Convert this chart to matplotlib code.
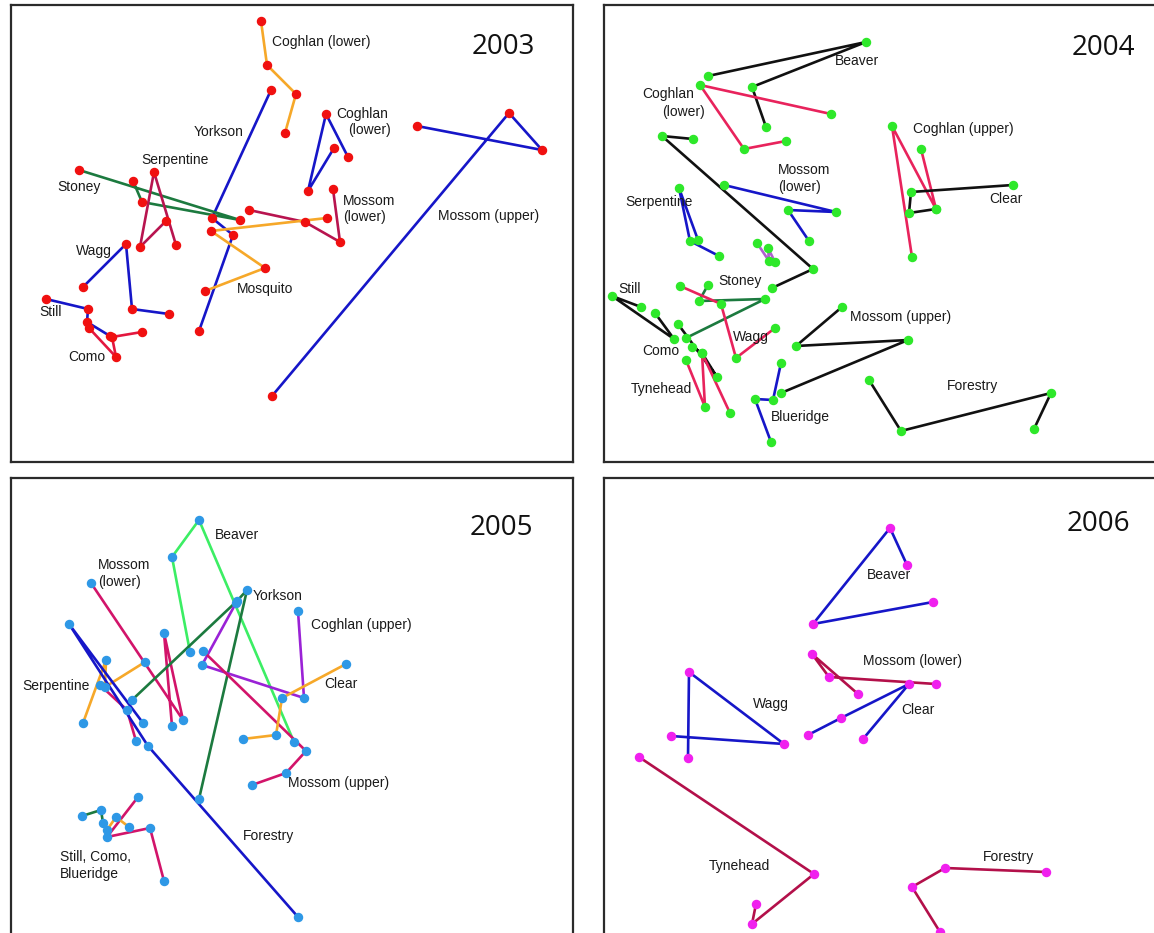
import matplotlib
matplotlib.use("Agg")
import matplotlib.pyplot as plt

# ---------------------------------------------------------------------------
# Site trajectories per year (ordination scores, page-aligned coordinates)
# each entry: site -> (x list, y list, line colour key)
# ---------------------------------------------------------------------------
years = ["2003", "2004", "2005", "2006"]

tracks_2003 = {
    "Coghlan (lower) a": ([261, 267, 296, 285], [21, 65, 94, 133], "orange"),
    "Yorkson": ([271, 212, 233, 199], [90, 218, 235, 331], "blue"),
    "Stoney": ([79, 240, 142, 133], [170, 220, 202, 181], "dgreen"),
    "Serpentine": ([176, 154, 140, 166], [245, 172, 247, 221], "crimson"),
    "Mossom (lower)": ([249, 305, 340, 333], [210, 222, 242, 189], "crimson"),
    "Mosquito": ([327, 211, 265, 205], [218, 231, 268, 291], "orange"),
    "Coghlan (lower) b": ([348, 326, 308, 334], [157, 114, 191, 148], "blue"),
    "Mossom (upper)": ([417, 542, 509, 272], [126, 150, 113, 396], "blue"),
    "Wagg": ([83, 126, 132, 169], [287, 244, 309, 314], "blue"),
    "Still": ([46, 88, 87, 110], [299, 309, 322, 336], "blue"),
    "Como": ([89, 116, 112, 142], [328, 357, 337, 332], "red"),
}
labels_2003 = [
    ("Coghlan (lower)", 272, 42), ("Yorkson", 194, 132), ("Serpentine", 141, 160),
    ("Stoney", 57, 187), ("Coghlan", 336, 114), ("(lower)", 348, 130),
    ("Mossom", 343, 201), ("(lower)", 343, 217), ("Mossom (upper)", 438, 216),
    ("Wagg", 76, 251), ("Mosquito", 237, 289), ("Still", 39, 312), ("Como", 68, 357),
]

tracks_2004 = {
    "Beaver": ([708, 866, 752, 766], [76, 42, 87, 127], "black"),
    "Coghlan (lower)": ([831, 700, 744, 786], [114, 85, 149, 141], "pink"),
    "Unlabelled": ([693, 662, 813, 772], [139, 136, 269, 288], "black"),
    "Mossom (lower)": ([724, 836, 788, 809], [185, 212, 210, 241], "blue"),
    "Serpentine": ([698, 679, 690, 719], [240, 188, 241, 256], "blue"),
    "Mosquito": ([757, 769, 768, 775], [243, 261, 248, 262], "purple"),
    "Stoney": ([708, 699, 765, 686], [285, 301, 299, 338], "dgreen"),
    "Wagg": ([680, 721, 736, 775], [286, 304, 358, 328], "pink"),
    "Still": ([641, 612, 674, 655], [307, 296, 339, 313], "black"),
    "Como": ([678, 717, 702, 692], [324, 377, 353, 347], "black"),
    "Tynehead": ([686, 705, 702, 730], [360, 407, 353, 413], "pink"),
    "Blueridge": ([781, 773, 755, 771], [363, 400, 399, 442], "blue"),
    "Mossom (upper)": ([842, 796, 908, 781], [307, 346, 340, 393], "black"),
    "Forestry": ([869, 901, 1051, 1034], [380, 431, 393, 429], "black"),
    "Coghlan (upper)": ([912, 892, 936, 921], [257, 126, 209, 149], "pink"),
    "Clear": ([1013, 911, 909, 936], [185, 192, 213, 209], "black"),
}
labels_2004 = [
    ("Beaver", 835, 61), ("Coghlan", 642, 94), ("(lower)", 662, 112),
    ("Mossom", 778, 170), ("(lower)", 778, 187), ("Serpentine", 625, 202),
    ("Coghlan (upper)", 913, 129), ("Clear", 989, 199), ("Stoney", 718, 281),
    ("Still", 618, 289), ("Mossom (upper)", 850, 317), ("Wagg", 733, 337),
    ("Como", 642, 351), ("Tynehead", 631, 389), ("Forestry", 947, 386),
    ("Blueridge", 771, 417),
]

tracks_2005 = {
    "Beaver": ([190, 172, 199, 294], [652, 557, 520, 742], "lgreen"),
    "Mossom (lower)": ([91, 183, 164, 172], [583, 720, 633, 726], "magred"),
    "Yorkson": ([132, 237, 247, 199], [700, 601, 590, 799], "dgreen"),
    "Coghlan (upper)": ([298, 304, 202, 236], [611, 698, 665, 603], "violet"),
    "Mossom (upper)": ([203, 306, 286, 252], [651, 751, 773, 785], "magred"),
    "Clear": ([346, 282, 276, 243], [664, 698, 735, 739], "orange"),
    "Serpentine": ([145, 105, 106, 83], [662, 687, 660, 723], "orange"),
    "Serpentine b": ([100, 127, 136], [685, 710, 741], "magred"),
    "Forestry": ([143, 69, 148, 298], [723, 624, 746, 917], "blue"),
    "Still": ([82, 101, 103], [816, 810, 823], "dgreen"),
    "Como": ([138, 107, 150, 164], [797, 837, 828, 881], "magred"),
    "Blueridge": ([107, 116, 129], [830, 817, 827], "orange"),
}
labels_2005 = [
    ("Beaver", 215, 535), ("Mossom", 98, 565), ("(lower)", 98, 582),
    ("Yorkson", 253, 596), ("Coghlan (upper)", 311, 625), ("Clear", 324, 684),
    ("Serpentine", 22, 686), ("Mossom (upper)", 288, 783), ("Forestry", 243, 836),
    ("Still, Como,", 60, 857), ("Blueridge", 60, 874),
]

tracks_2006 = {
    "Beaver": ([907, 890, 813, 933], [565, 528, 624, 602], "blue"),
    "Mossom (lower)": ([858, 812, 829, 936], [694, 654, 677, 684], "wine"),
    "Clear": ([808, 841, 909, 863], [735, 718, 684, 739], "blue"),
    "Wagg": ([688, 689, 784, 671], [758, 672, 744, 736], "blue"),
    "Tynehead": ([639, 814, 752, 756], [757, 874, 924, 904], "wine"),
    "Forestry": ([1046, 945, 912, 940], [872, 868, 887, 932], "wine"),
}
labels_2006 = [
    ("Beaver", 867, 575), ("Mossom (lower)", 863, 661), ("Clear", 901, 710),
    ("Wagg", 753, 704), ("Tynehead", 709, 866), ("Forestry", 983, 857),
]

line_colours = {
    "orange": "#f6a829", "blue": "#1616c8", "dgreen": "#1c7a3f",
    "crimson": "#b8144f", "red": "#e3173f", "pink": "#e8235c",
    "black": "#111111", "purple": "#b060d0", "lgreen": "#3cee64",
    "magred": "#d2146a", "violet": "#9a22d6", "wine": "#b3104a",
}
dot_colours = {"2003": "#f01010", "2004": "#2ee82a", "2005": "#2e98e6", "2006": "#f020ee"}

# panel frames in page coordinates: (x0, x1, y0, y1)
frames = {
    "2003": (11, 573, 5, 462),
    "2004": (604, 1162, 5, 462),
    "2005": (11, 573, 478, 940),
    "2006": (604, 1162, 478, 940),
}
title_pos = {"2003": (472, 47), "2004": (1072, 48), "2005": (470, 528), "2006": (1067, 524)}
panels = {
    "2003": (tracks_2003, labels_2003),
    "2004": (tracks_2004, labels_2004),
    "2005": (tracks_2005, labels_2005),
    "2006": (tracks_2006, labels_2006),
}

W, H = 1154, 933
fig = plt.figure(figsize=(W / 100, H / 100), dpi=100)
fig.patch.set_facecolor("white")

for yr in years:
    x0, x1, y0, y1 = frames[yr]
    ax = fig.add_axes([x0 / W, 1 - y1 / H, (x1 - x0) / W, (y1 - y0) / H])
    ax.set_xlim(x0, x1)
    ax.set_ylim(y1, y0)
    ax.set_xticks([])
    ax.set_yticks([])
    for sp in ax.spines.values():
        sp.set_linewidth(1.6)
        sp.set_color("#2b2b2b")

    tracks, labels = panels[yr]
    for name, (xs, ys, ck) in tracks.items():
        ax.plot(xs, ys, color=line_colours[ck], lw=1.9, solid_capstyle="round", zorder=2)
    for name, (xs, ys, ck) in tracks.items():
        ax.plot(xs, ys, ls="none", marker="o", ms=5.8, mfc=dot_colours[yr],
                mec=dot_colours[yr], zorder=3)
    for txt, tx, ty in labels:
        ax.text(tx, ty, txt, fontsize=10, family="Liberation Sans", color="#1a1a1a",
                ha="left", va="center", zorder=4)
    tx, ty = title_pos[yr]
    ax.text(tx, ty, yr, fontsize=20, family="Open Sans", color="#111111",
            ha="left", va="center", zorder=4)

fig.savefig("out.png", dpi=100)
